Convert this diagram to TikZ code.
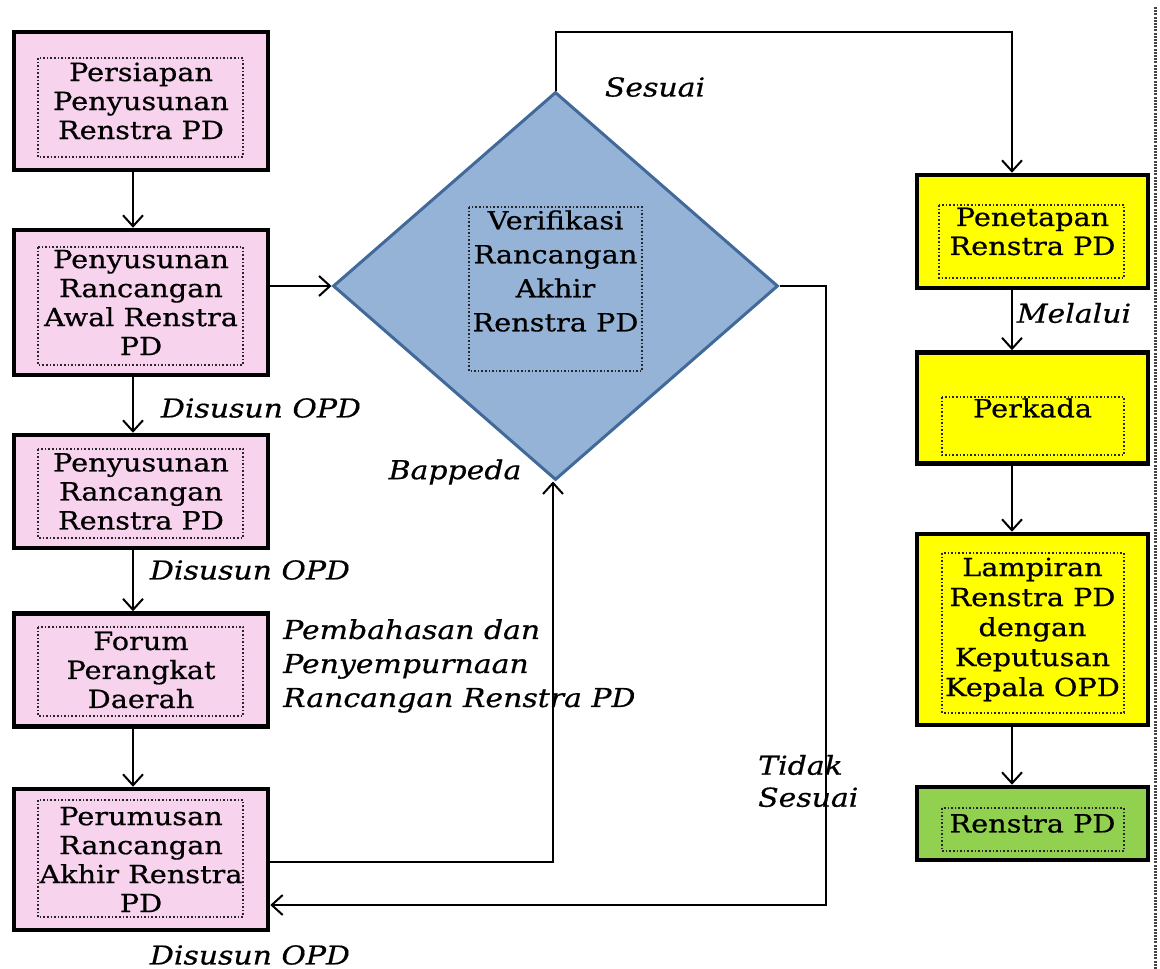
\documentclass[tikz,border=0pt]{standalone}
\usepackage{fontspec}
\setmainfont[FakeStretch=1.15,FakeBold=0.6]{DejaVu Serif}
\usetikzlibrary{arrows.meta,shapes.geometric}
\definecolor{pinkfill}{HTML}{F7D3EE}
\definecolor{yelfill}{HTML}{FFFF00}
\definecolor{grnfill}{HTML}{92D050}
\definecolor{dfill}{HTML}{95B3D7}
\definecolor{dline}{HTML}{41699A}
\definecolor{sepgray}{HTML}{444444}
\begin{document}
\begin{tikzpicture}[x=1pt,y=-1pt,
  box/.style={draw=black,line width=4.5pt,inner sep=0pt,align=center,
    font=\fontsize{25}{29}\selectfont},
  lbox/.style={box,fill=pinkfill,minimum width=254pt},
  rbox/.style={box,minimum width=231pt},
  inner/.style={draw=black!85,line width=1.6pt,dotted},
  conn/.style={draw=black,line width=2pt},
  arr/.style={conn,-{Straight Barb[length=11pt,width=20pt]}},
  lab/.style={font=\fontsize{26}{34}\selectfont\itshape,inner sep=0pt}]
\useasboundingbox (0,0) rectangle (1160,969);

% separator
\draw[sepgray,line width=3pt,dash pattern=on 2pt off 1.2pt] (1155,7) -- (1155,969);

% left column
\node[lbox,minimum height=138pt] (b1) at (141,101) {Persiapan\\Penyusunan\\Renstra PD};
\node[lbox,minimum height=145pt] (b2) at (141,302.5) {Penyusunan\\Rancangan\\Awal Renstra\\PD};
\node[lbox,minimum height=113pt] (b3) at (141,491.5) {Penyusunan\\Rancangan\\Renstra PD};
\node[lbox,minimum height=113pt] (b4) at (141,670) {Forum\\Perangkat\\Daerah};
\node[lbox,minimum height=141pt] (b5) at (141,859.5) {Perumusan\\Rancangan\\Akhir Renstra\\PD};
\draw[inner] (38,58) rectangle (243,157);
\draw[inner] (38,247) rectangle (243,365);
\draw[inner] (38,449) rectangle (243,538);
\draw[inner] (38,627) rectangle (243,716);
\draw[inner] (38,800) rectangle (243,917);

% diamond
\node[diamond,draw=dline,fill=dfill,line width=3pt,inner sep=0pt,
  minimum width=445pt,minimum height=388pt] (d) at (555.5,286) {};
\draw[inner] (469,207) rectangle (642,371);
\node[align=center,inner sep=0pt,font=\fontsize{25}{34}\selectfont] (dt) at (555.5,271)
  {Verifikasi\\Rancangan\\Akhir\\Renstra PD};

% right column
\node[rbox,fill=yelfill,minimum height=113pt] (y1) at (1032.5,231.5) {Penetapan\\Renstra PD};
\node[rbox,fill=yelfill,minimum height=111pt] (y2) at (1032.5,408) {Perkada};
\node[rbox,fill=yelfill,minimum height=191pt,font=\fontsize{25}{30}\selectfont] (y3) at (1032.5,629.5)
  {Lampiran\\Renstra PD\\dengan\\Keputusan\\Kepala OPD};
\node[rbox,fill=grnfill,minimum height=73pt] (g) at (1032.5,823.5) {Renstra PD};
\draw[inner] (939,205) rectangle (1124,278);
\draw[inner] (942,397) rectangle (1124,455);
\draw[inner] (942,553) rectangle (1124,713);
\draw[inner] (942,808) rectangle (1124,851);

% helper coordinates
\coordinate (lcol) at (133,0);
\coordinate (rcol) at (1012,0);
\coordinate (j1) at (553,862);
\coordinate (j2) at (826,905);
\coordinate (j3) at (1012,32);

% connectors
\draw[arr] (b1.south -| lcol) -- (b2.north -| lcol);
\draw[arr] (b2.south -| lcol) -- (b3.north -| lcol);
\draw[arr] (b3.south -| lcol) -- (b4.north -| lcol);
\draw[arr] (b4.south -| lcol) -- (b5.north -| lcol);
\draw[arr] (b2.east |- d.west) -- (d.west);
\draw[arr] (b5.east |- j1) -- (j1) -- (j1 |- d.south);
\draw[arr] (d.east) -- (d.east -| j2) -- (j2) -- (b5.east |- j2);
\draw[arr] (d.north) -- (d.north |- j3) -- (j3) -- (y1.north -| j3);
\draw[arr] (y1.south -| rcol) -- (y2.north -| rcol);
\draw[arr] (y2.south -| rcol) -- (y3.north -| rcol);
\draw[arr] (y3.south -| rcol) -- (g.north -| rcol);

% labels
\node[lab] (l1) at (655,87) {Sesuai};
\node[lab] (l2) at (261,408) {Disusun OPD};
\node[lab] (l3) at (250,570) {Disusun OPD};
\node[lab,anchor=west,align=left] (l4) at (283,666) {Pembahasan dan\\Penyempurnaan\\Rancangan Renstra PD};
\node[lab] (l5) at (455,472) {Bappeda};
\node[lab] (l6) at (1074,313) {Melalui};
\node[lab,anchor=west,align=left,font=\fontsize{26}{32}\selectfont\itshape] (l7) at (758,781) {Tidak\\Sesuai};
\node[lab] (l8) at (250,955) {Disusun OPD};
\end{tikzpicture}
\end{document}
